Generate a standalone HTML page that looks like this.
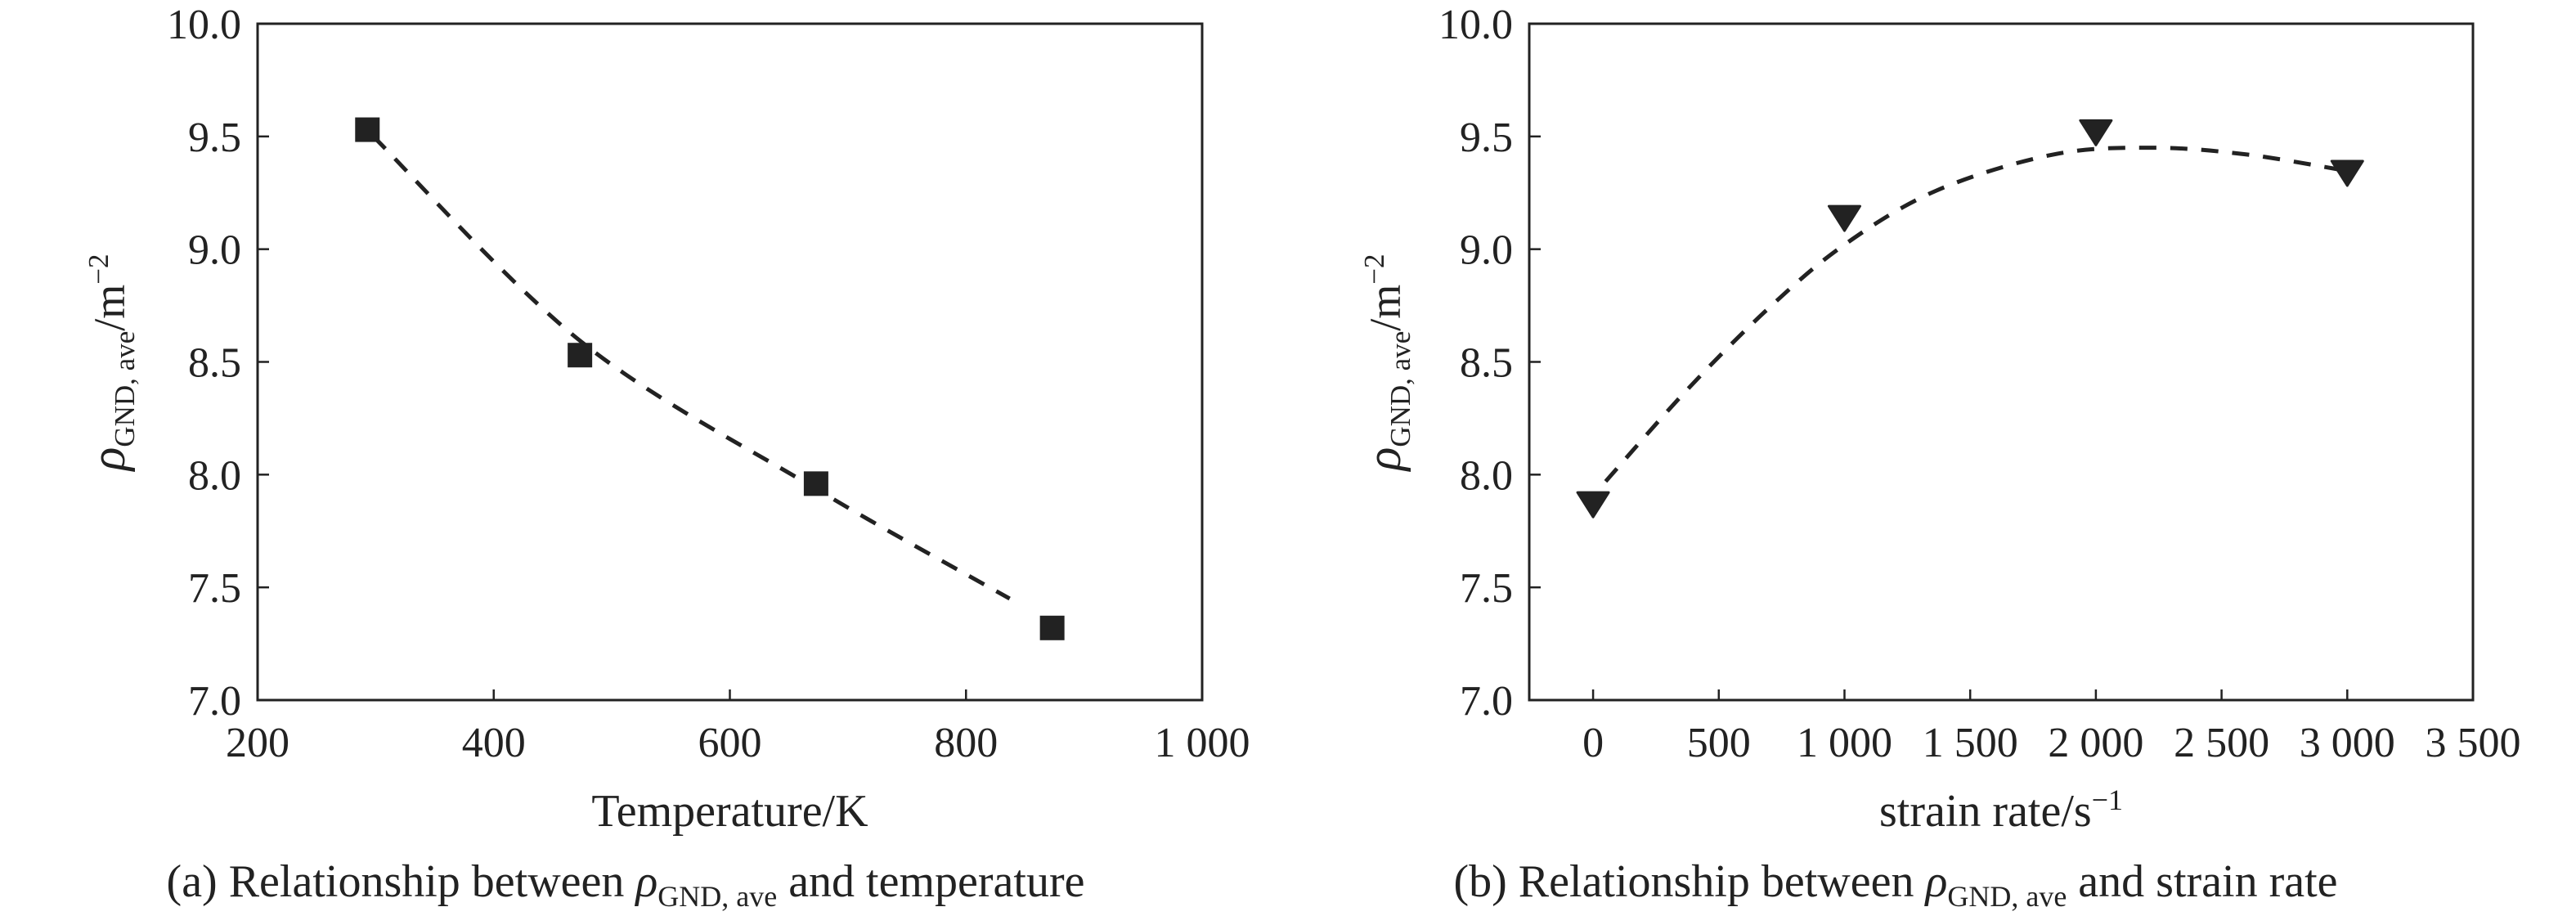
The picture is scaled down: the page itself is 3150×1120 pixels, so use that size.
<!DOCTYPE html>
<html><head><meta charset="utf-8"><style>
html,body{margin:0;padding:0;background:#fff;}
svg{display:block;font-family:"Liberation Serif",serif;}
</style></head><body>
<svg id="fig" width="3150" height="1120" viewBox="0 0 3150 1120"></svg>
<script>
// Panel (a) data
const tempX = [293, 473, 673, 873];
const tempY = [9.53, 8.53, 7.96, 7.32];
const tempFitX = [298, 474, 672, 837];
const tempFitY = [9.50, 8.59, 7.94, 7.45];
const tempTicks = [200, 400, 600, 800, 1000];
const tempTickLabels = ["200", "400", "600", "800", "1 000"];
// Panel (b) data
const rateX = [0, 1000, 2000, 3000];
const rateY = [7.87, 9.14, 9.52, 9.34];
const rateFitX = [50, 377, 700, 1000, 1366, 1831, 2225, 2600, 2985];
const rateFitY = [7.97, 8.38, 8.74, 9.02, 9.26, 9.42, 9.45, 9.42, 9.35];
const rateTicks = [0, 500, 1000, 1500, 2000, 2500, 3000, 3500];
const rateTickLabels = ["0", "500", "1 000", "1 500", "2 000", "2 500", "3 000", "3 500"];
// shared y
const yTicks = [7.0, 7.5, 8.0, 8.5, 9.0, 9.5, 10.0];
const yTickLabels = ["7.0", "7.5", "8.0", "8.5", "9.0", "9.5", "10.0"];

const NS = "http://www.w3.org/2000/svg";
const svg = document.getElementById('fig');
function mk(tag, attrs, parent){
  const e = document.createElementNS(NS, tag);
  for (const k in attrs) e.setAttribute(k, attrs[k]);
  (parent || svg).appendChild(e);
  return e;
}
function smoothPath(pts){
  let d = "M" + pts[0][0] + "," + pts[0][1];
  for (let i = 0; i < pts.length - 1; i++){
    const p0 = pts[i-1] || pts[i], p1 = pts[i], p2 = pts[i+1], p3 = pts[i+2] || pts[i+1];
    const c1 = [p1[0] + (p2[0]-p0[0])/6, p1[1] + (p2[1]-p0[1])/6];
    const c2 = [p2[0] - (p3[0]-p1[0])/6, p2[1] - (p3[1]-p1[1])/6];
    d += " C" + c1[0] + "," + c1[1] + " " + c2[0] + "," + c2[1] + " " + p2[0] + "," + p2[1];
  }
  return d;
}

function panel(cfg){
  const g = mk('g', {});
  
  
  const L = cfg.left, R = cfg.right, T = 29, B = 856;
  const sx = v => L + (v - cfg.xmin) / (cfg.xmax - cfg.xmin) * (R - L);
  const sy = v => B - (v - 7) / 3 * (B - T);
  const frame = mk('rect', {x:L, y:T, width:R-L, height:B-T, fill:'none', stroke:'#222', 'stroke-width':3}, g);
  
  
  cfg.xt.forEach((v, i) => {
    const x = sx(v);
    if (x > L + 2 && x < R - 2) mk('line', {x1:x, y1:B, x2:x, y2:B-13, stroke:'#222', 'stroke-width':2.5}, g);
    const t = mk('text', {x:x, y:925, 'font-size':52, 'text-anchor':'middle', fill:'#222'}, g);
    t.textContent = cfg.xl[i];
    
    
  });
  yTicks.forEach((v, i) => {
    const y = sy(v);
    if (y > T + 2 && y < B - 2) mk('line', {x1:L, y1:y, x2:L+14, y2:y, stroke:'#222', 'stroke-width':2.5}, g);
    const t = mk('text', {x:L-20, y:y+18, 'font-size':52, 'text-anchor':'end', fill:'#222'}, g);
    t.textContent = yTickLabels[i];
    
    
  });
  const pts = cfg.fx.map((v, i) => [sx(v), sy(cfg.fy[i])]);
  const fit = mk('path', {d:smoothPath(pts), fill:'none', stroke:'#222', 'stroke-width':5, 'stroke-dasharray':'21 17'}, g);
  
  
  cfg.dx.forEach((v, i) => {
    const x = sx(v), y = sy(cfg.dy[i]);
    let m;
    if (cfg.marker === 'square') {
      m = mk('rect', {x:x-15, y:y-15, width:30, height:30, fill:'#222'}, g);
    } else {
      m = mk('path', {d:`M${x-19},${y-14} L${x+19},${y-14} L${x},${y+16} Z`, fill:'#222', stroke:'#222', 'stroke-width':3, 'stroke-linejoin':'round'}, g);
    }
    
    
  });
  const xl = mk('text', {x:(L+R)/2, y:1010, 'font-size':56, 'text-anchor':'middle', fill:'#222'}, g);
  xl.innerHTML = cfg.xlabel;
  
  
  const yl = mk('text', {x:0, y:0, 'font-size':54, 'text-anchor':'middle', fill:'#222', transform:`translate(${cfg.ylx},443) rotate(-90)`}, g);
  yl.innerHTML = '<tspan font-style="italic" font-size="60">ρ</tspan><tspan font-size="35" dy="12">GND, ave</tspan><tspan dy="-12">/m</tspan><tspan font-size="35" dy="-20">−2</tspan>';
  
  
  const cap = mk('text', {x:cfg.capx, y:1096, 'font-size':56, 'text-anchor':'middle', fill:'#222'}, g);
  cap.innerHTML = cfg.caption;
  
  
}

panel({name:'panel-a-temperature', left:315, right:1470, xmin:200, xmax:1000,
  xt:tempTicks, xl:tempTickLabels, fx:tempFitX, fy:tempFitY, dx:tempX, dy:tempY, marker:'square',
  xlabel:'Temperature/K', ylx:152, capx:765,
  caption:'(a) Relationship between <tspan font-style="italic">ρ</tspan><tspan font-size="36" dy="12">GND, ave</tspan><tspan dy="-12"> and temperature</tspan>'});
panel({name:'panel-b-strain-rate', left:1870, right:3024, xmin:-254, xmax:3500,
  xt:rateTicks, xl:rateTickLabels, fx:rateFitX, fy:rateFitY, dx:rateX, dy:rateY, marker:'triangle',
  xlabel:'strain rate/s<tspan font-size="36" dy="-20">−1</tspan>', ylx:1712, capx:2318,
  caption:'(b) Relationship between <tspan font-style="italic">ρ</tspan><tspan font-size="36" dy="12">GND, ave</tspan><tspan dy="-12"> and strain rate</tspan>'});
</script>
</body></html>
